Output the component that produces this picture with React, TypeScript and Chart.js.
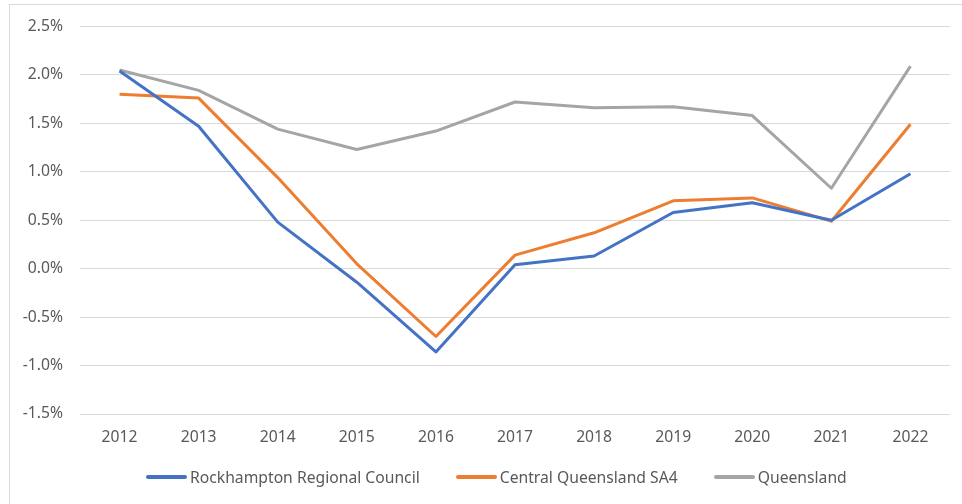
import React, { useEffect, useRef } from "react";
import { Chart, registerables } from "chart.js";

Chart.register(...registerables);

const years = ["2012", "2013", "2014", "2015", "2016", "2017", "2018", "2019", "2020", "2021", "2022"];
const rockhampton = [2.04, 1.47, 0.48, -0.14, -0.86, 0.04, 0.13, 0.58, 0.68, 0.5, 0.98];
const centralQld = [1.8, 1.76, 0.94, 0.05, -0.7, 0.14, 0.37, 0.7, 0.73, 0.49, 1.49];
const queensland = [2.05, 1.84, 1.44, 1.23, 1.42, 1.72, 1.66, 1.67, 1.58, 0.83, 2.09];
const seriesNames = ["Rockhampton Regional Council", "Central Queensland SA4", "Queensland"];
const seriesColors = ["#4472C4", "#ED7D31", "#A5A5A5"];

const FONT_FAMILY = "'Noto Sans', 'Open Sans', sans-serif";
const FONT_SIZE = 15.7;

export default function App() {
  const ref = useRef<HTMLCanvasElement | null>(null);
  useEffect(() => {
    if (!ref.current) return;
    const font = { family: FONT_FAMILY, size: FONT_SIZE };
    const mk = (label: string, data: number[], color: string) => ({
      label,
      data,
      borderColor: color,
      backgroundColor: color,
      borderWidth: 3,
      pointRadius: 0,
      tension: 0,
      borderJoinStyle: "round" as const,
    });
    const chart = new Chart(ref.current, {
      type: "line",
      data: {
        labels: years,
        datasets: [
          mk(seriesNames[0], rockhampton, seriesColors[0]),
          mk(seriesNames[1], centralQld, seriesColors[1]),
          mk(seriesNames[2], queensland, seriesColors[2]),
        ],
      },
      options: {
        animation: false,
        responsive: false,
        layout: { padding: { left: 0, right: 12, top: 26, bottom: 50 } },
        plugins: {
          tooltip: { enabled: false },
          legend: { display: false },
        },
        scales: {
          x: {
            offset: true,
            grid: { display: false, drawTicks: false },
            border: { display: false },
            ticks: { font, color: "#595959", padding: 14, maxRotation: 0 },
            afterFit: (s: any) => { s.height = 40; },
          },
          y: {
            min: -1.5,
            max: 2.5,
            grid: { color: "#D9D9D9", lineWidth: 1, drawTicks: false },
            border: { display: false },
            ticks: {
              stepSize: 0.5,
              font,
              color: "#595959",
              padding: 17,
              callback: (v: any) => Number(v).toFixed(1) + "%",
            },
            afterFit: (s: any) => { s.width = 80; },
          },
        },
      },
    });
    return () => chart.destroy();
  }, []);
  return (
    <div style={{ position: "fixed", left: 0, top: 0, width: 962, height: 504, background: "#fff", overflow: "hidden" }}>
      <div style={{ position: "absolute", left: 9, top: 4, width: 1000, height: 600, border: "1px solid #D9D9D9", boxSizing: "border-box" }} />
      <canvas ref={ref} width={962} height={504} style={{ position: "absolute", left: 0, top: 0 }} />
      <div
        style={{
          position: "absolute",
          left: 146,
          top: 466,
          height: 22,
          display: "flex",
          alignItems: "center",
          gap: 36,
          fontFamily: FONT_FAMILY,
          fontSize: FONT_SIZE,
          color: "#595959",
          whiteSpace: "nowrap",
        }}
      >
        {seriesNames.map((name, i) => (
          <div key={name} style={{ display: "flex", alignItems: "center", gap: 3 }}>
            <span style={{ display: "inline-block", width: 41, height: 4, borderRadius: 2, background: seriesColors[i] }} />
            <span style={{ lineHeight: "22px" }}>{name}</span>
          </div>
        ))}
      </div>
    </div>
  );
}
